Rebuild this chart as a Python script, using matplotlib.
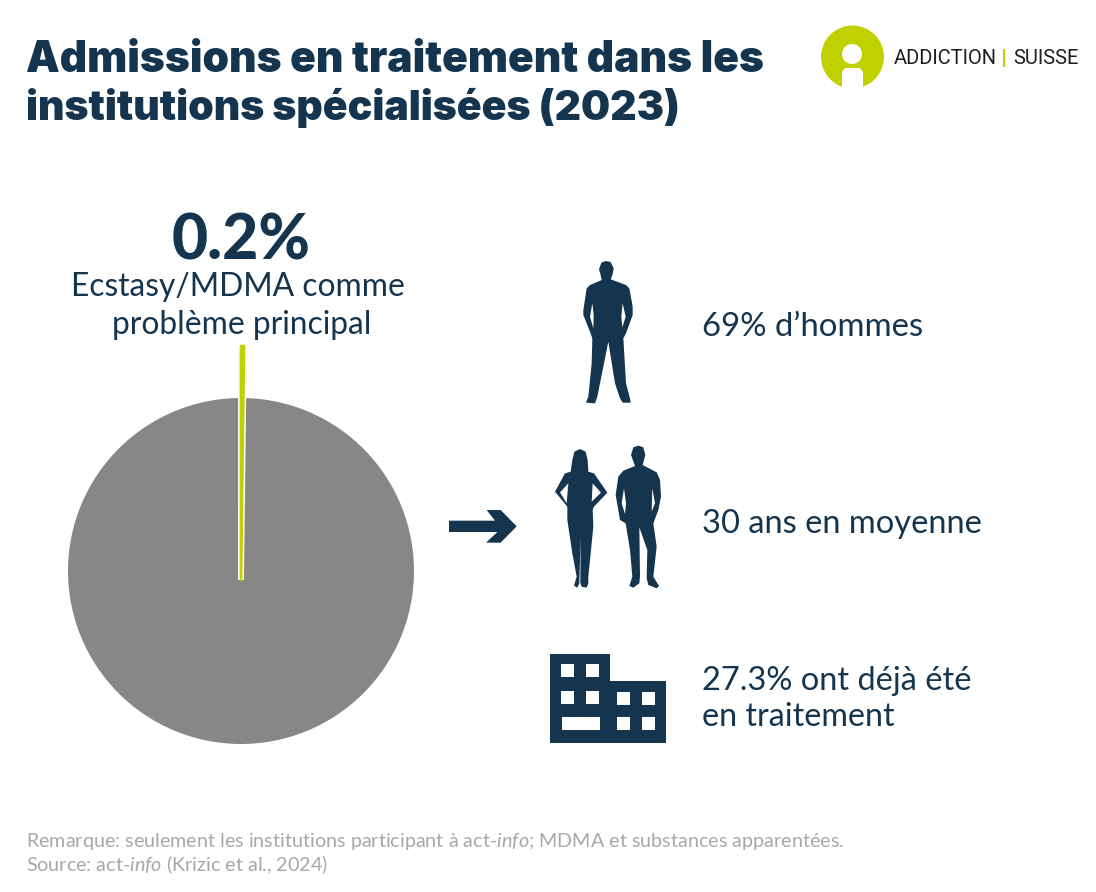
import matplotlib
matplotlib.use('Agg')
import matplotlib.pyplot as plt
from matplotlib.patches import Polygon, Rectangle, Circle

plt.rcParams['mathtext.fontset'] = 'custom'
plt.rcParams['mathtext.it'] = 'Lato:italic'
plt.rcParams['mathtext.rm'] = 'Lato'

# donnees
labels = ['Ecstasy/MDMA', 'Autres']
shares = [0.2, 99.8]
main_pct = '0.2%'
main_txt = ['Ecstasy/MDMA comme', 'problème principal']
facts = ['69% d’hommes', '30 ans en moyenne', '27.3% ont déjà été', 'en traitement']

NAVY = '#15354f'
GREEN = '#c1d100'
GREY = '#878786'
NOTE = '#a8a8a8'
W, H = 1096, 892

fig = plt.figure(figsize=(W / 100, H / 100), dpi=100, facecolor='white')
bg = fig.add_axes([0, 0, 1, 1])
bg.set_xlim(0, W)
bg.set_ylim(H, 0)
bg.axis('off')

# camembert : rayon 173 px, centre (241, 571)
cx, cy, r = 241, 571, 173
lim = 1.5
ax = fig.add_axes([(cx - lim * r) / W, 1 - (cy + lim * r) / H, 2 * lim * r / W, 2 * lim * r / H])
ax.patch.set_alpha(0)
start = 90 - shares[0] * 3.6
ax.pie(shares, startangle=start, radius=1, colors=['white', GREY], wedgeprops={'linewidth': 0})
# part mise en avant, decalee vers le haut
fraction = [shares[0] / 100]
ax.pie(fraction, normalize=False, startangle=start, radius=190 / r, center=(0, -9 / r), colors=['white'],
       wedgeprops={'edgecolor': 'white', 'linewidth': 4.2})
ax.pie(fraction, normalize=False, startangle=start, radius=234 / r, center=(0, -9 / r), colors=[GREEN],
       wedgeprops={'edgecolor': GREEN, 'linewidth': 2.0, 'joinstyle': 'round'})
ax.set_xlim(-lim, lim)
ax.set_ylim(-lim, lim)


def txt(x, y, s, size, color=NAVY, family='Lato', weight='normal', **kw):
    kw.setdefault('va', 'center')
    return bg.text(x, y, s, fontsize=size, color=color, family=family, weight=weight, zorder=5, **kw)


txt(26, 60, 'Admissions en traitement dans les', 30.6, weight='black', family='Inter')
txt(26, 108, 'institutions spécialisées (2023)', 29.5, weight='black', family='Inter')

txt(241, 241, main_pct, 45, weight='black', ha='center')
txt(238, 287, main_txt[0], 22.9, ha='center')
txt(242, 325, main_txt[1], 22.9, ha='center')

txt(702, 327, facts[0], 23.7)
txt(702, 524, facts[1], 23.5)
txt(702, 681, facts[2], 23.5)
txt(702, 717, facts[3], 23.2)

txt(26, 841, 'Remarque: seulement les institutions participant à act-$\\mathit{info}$; MDMA et substances apparentées.', 14.2, color=NOTE)
txt(26, 865, 'Source: act-$\\mathit{info}$ (Krizic et al., 2024)', 14.2, color=NOTE)

# logo
bg.add_patch(Circle((852.5, 57), 31.5, color=GREEN, lw=0))
bg.add_patch(Circle((852, 54), 10, color='white', lw=0))
bg.add_patch(Polygon([(842, 90), (842, 72), (845, 68), (860, 68), (863, 72), (863, 90)], color='white', lw=0))
bg.add_patch(Rectangle((815, 88), 80, 8, color='white', lw=0))
txt(894, 58, 'ADDICTION', 14.5, color='#1d1d1b', family='Roboto')
bg.add_patch(Rectangle((1003, 49), 2, 18, color=GREEN, lw=0))
txt(1013, 58, 'SUISSE', 14.5, color='#1d1d1b', family='Roboto')


def shape(points, ox, oy, color=NAVY):
    # contours releves sur un agrandissement x3
    bg.add_patch(Polygon([(ox + a / 3, oy + b / 3) for a, b in points], color=color, lw=0, zorder=3))


# fleche
shape([(27, 242), (165, 242), (140, 210), (182, 210), (230, 259), (182, 308), (138, 308), (172, 276), (27, 276)], 440, 440)

# homme seul
shape([(177, 58), (184, 38), (197, 33), (212, 36), (221, 55), (218, 72), (212, 88), (258, 105), (268, 115), (278, 170),
       (278, 195), (258, 250), (250, 265), (258, 400), (270, 445), (272, 458), (248, 458), (240, 445), (225, 400),
       (205, 275), (172, 440), (165, 460), (138, 458), (145, 440), (155, 340), (157, 265), (150, 245), (130, 195),
       (130, 180), (140, 115), (150, 105), (185, 90), (181, 72)], 540, 250)
shape([(157, 160), (150, 200), (160, 235), (161, 195)], 540, 250, 'white')
shape([(248, 160), (244, 200), (247, 232), (257, 200)], 540, 250, 'white')

# femme
shape([(397, 60), (403, 35), (420, 27), (437, 35), (443, 60), (445, 95), (462, 100), (502, 158), (462, 200), (458, 210),
       (460, 260), (452, 340), (445, 410), (445, 430), (440, 443), (425, 440), (421, 430), (422, 285), (418, 430),
       (412, 443), (402, 437), (410, 410), (397, 340), (382, 240), (382, 200), (345, 155), (375, 100), (392, 95)], 440, 440)
shape([(385, 130), (360, 157), (380, 190)], 440, 440, 'white')
shape([(458, 130), (483, 158), (455, 185)], 440, 440, 'white')

# homme du couple
shape([(573, 45), (580, 22), (595, 17), (610, 22), (616, 45), (608, 75), (650, 97), (660, 120), (663, 170), (655, 210),
       (640, 250), (650, 320), (640, 410), (657, 438), (650, 445), (625, 435), (620, 415), (622, 330), (598, 262),
       (600, 410), (598, 430), (580, 443), (568, 438), (577, 410), (570, 330), (557, 250), (540, 240), (527, 165),
       (535, 110), (550, 92), (585, 78)], 440, 440)
shape([(552, 145), (545, 190), (555, 222), (558, 190)], 440, 440, 'white')
shape([(637, 145), (635, 215), (645, 190)], 440, 440, 'white')

# immeuble
bg.add_patch(Polygon([(550, 654), (610, 654), (610, 681), (666, 681), (666, 743), (550, 743)], color=NAVY, lw=0))
for x, y, w, h in [(561, 664, 13, 13), (586, 664, 13, 13), (561, 691, 13, 13), (586, 691, 13, 13),
                   (617, 692, 13, 13), (642, 692, 13, 13), (562, 717, 38, 13), (617, 717, 13, 13), (642, 717, 13, 13)]:
    bg.add_patch(Rectangle((x, y), w, h, color='white', lw=0))

fig.savefig('out.png', dpi=100)
